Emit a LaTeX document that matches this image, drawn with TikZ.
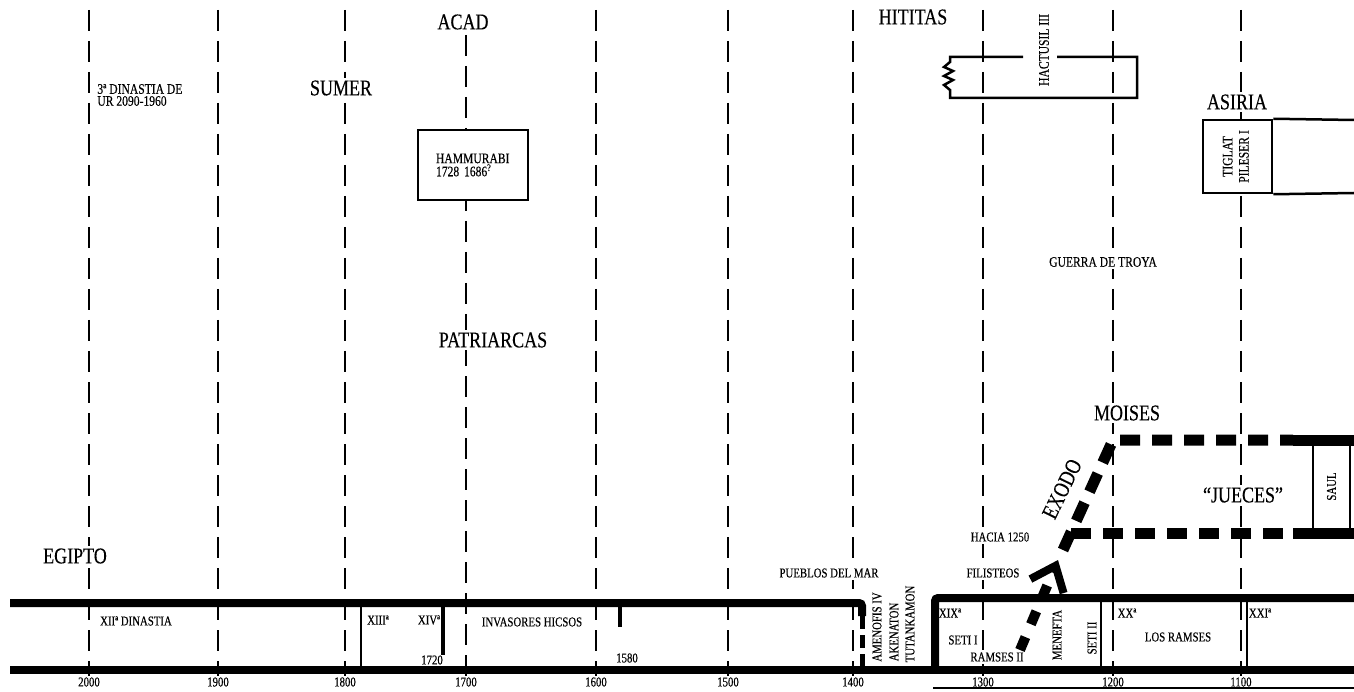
\documentclass[tikz,border=0pt]{standalone}
\usepackage{fontspec}
\setmainfont{Liberation Serif}[FakeStretch=0.8, FakeBold=0.3]
\usepackage{tikz}
\usetikzlibrary{arrows.meta, positioning, calc}

\newcommand{\bigf}{\fontsize{22.5}{24}\selectfont}
\newcommand{\midf}{\fontsize{14.5}{12}\selectfont}
\newcommand{\smf}{\fontsize{13.5}{14}\selectfont}

\begin{document}
\begin{tikzpicture}[x=1pt, y=-1pt, thick,
    grid/.style={line width=2.4pt, dash pattern=on 21pt off 10pt},
    band/.style={line width=8pt},
    rule/.style={line width=2.5pt},
    judges/.style={line width=11pt, dash pattern=on 20pt off 12pt},
    lbl/.style={fill=white, inner sep=2pt},
    big/.style={lbl, font=\bigf},
    mid/.style={lbl, font=\midf},
    small/.style={lbl, font=\smf},
    boxed/.style={draw, line width=2.5pt, fill=white}]
    \useasboundingbox (0,0) rectangle (1354,692);

    \foreach \yr/\x in {2000/89, 1900/218, 1800/345, 1700/466, 1600/596, 1500/728, 1400/853, 1300/983, 1200/1113, 1100/1241}
        \node[font=\smf, inner sep=1pt] (y\yr) at (\x,682) {\yr};
    \foreach \yr/\x/\top in {2000/89/10, 1900/218/10, 1800/345/10, 1700/466/35, 1600/596/10, 1500/728/10, 1400/853/10, 1300/983/10, 1200/1113/10, 1100/1241/10}
        \draw[grid] (\x,\top) -- (y\yr.north);

    \node[mid, align=left, anchor=west] (ur) at (95,95) {3ª DINASTIA DE\\UR 2090-1960};
    \node[big] (sumer) at (341,88) {SUMER};
    \node[big] (acad) at (463,22) {ACAD};
    \node[boxed, align=left, text width=74pt, inner xsep=18pt, minimum height=70pt, font=\midf] (hammurabi) at (473,165) {HAMMURABI\\1728 1686\textsuperscript{?}};
    \node[big] (patriarcas) at (493,340) {PATRIARCAS};
    \node[big] (hititas) at (913,17) {HITITAS};
    \node[mid, rotate=90] (hattusil) at (1044,50) {HACTUSIL III};
    \draw[rule] (1023,57) -- (950,57) -- (950,62) -- (944,67) -- (953,71) -- (944,76) -- (953,80) -- (944,85) -- (950,90) -- (950,98) -- (1137,98) -- (1137,57) -- (1057,57);
    \node[big] (asiria) at (1237,102) {ASIRIA};
    \node[boxed, minimum width=69pt, minimum height=73pt, inner sep=0pt, font=\midf] (tiglat) at (1237.5,156.5) {\rotatebox{90}{\begin{tabular}{@{}c@{}}TIGLAT\\[3pt]PILESER I\end{tabular}}};
    \coordinate (asr1) at (1354,120);
    \coordinate (asr2) at (1354,193);
    \draw[rule] (tiglat.north east) -- (asr1);
    \draw[rule] (tiglat.south east) -- (asr2);
    \node[mid] (troya) at (1103,262) {GUERRA DE TROYA};
    \node[big] (moises) at (1127,413) {MOISES};
    \node[font=\bigf, inner sep=1pt, rotate=64] (exodo) at (1062,489) {EXODO};
    \node[big] (jueces) at (1243,495) {``JUECES''};
    \node[draw, line width=2.5pt, minimum width=37pt, minimum height=93pt, inner sep=0pt, font=\smf] (saul) at (1331.5,486.5) {\rotatebox{90}{SAUL}};
    \node[big] (egipto) at (75,556) {EGIPTO};
    \node[small] (pueblos) at (829,573) {PUEBLOS DEL MAR};
    \node[small] (hacia) at (1000,537) {HACIA 1250};
    \node[small] (filisteos) at (993,573) {FILISTEOS};

    \node[small] (xii) at (136,621) {XIIª DINASTIA};
    \node[small] (xiii) at (378,620) {XIIIª};
    \node[small] (xiv) at (429,620) {XIVª};
    \node[small] (hicsos) at (532,622) {INVASORES HICSOS};
    \node[small] (y1720) at (432,660) {1720};
    \node[small] (y1580) at (627,658) {1580};
    \node[small, rotate=90] (amenofis) at (877,627) {AMENOFIS IV};
    \node[small, rotate=90] (akenaton) at (894,632) {AKENATON};
    \node[small, rotate=90] (tutankamon) at (910,624) {TUTANKAMON};
    \node[small] (xix) at (950,613) {XIXª};
    \node[small] (seti) at (963,640) {SETI I};
    \node[small] (ramses) at (997,657) {RAMSES II};
    \node[small, rotate=90] (menefta) at (1057,635) {MENEFTA};
    \node[small, rotate=90] (setii) at (1092,638) {SETI II};
    \node[small] (xx) at (1127,613) {XXª};
    \node[small] (losramses) at (1178,637) {LOS RAMSES};
    \node[small] (xxi) at (1260,613) {XXIª};

    \draw[band, rounded corners=3pt] (10,603) -- (862,603) -- (862,616);
    \draw[line width=5pt, dash pattern=on 13pt off 6pt] (862,616) -- (862,666);
    \draw[band] (10,670) -- (1354,670);
    \draw[band, rounded corners=3pt] (1354,598) -- (935,598) -- (935,670);
    \draw[rule] (933,688) -- (1354,688);
    \draw[rule] (361,603) -- (361,670);
    \draw[line width=3.5pt] (443,603) -- (443,655);
    \draw[line width=3.5pt] (620,603) -- (620,627);
    \draw[rule] (1101,598) -- (1101,670);
    \draw[rule] (1247,598) -- (1247,670);

    \coordinate (ex0) at (1063,550);
    \coordinate (ex1) at (1113,440);
    \coordinate (ex2) at (1071,533);
    \coordinate (jt) at (1293,440);
    \coordinate (jb) at (1293,533);
    \coordinate (jte) at (1354,440);
    \coordinate (jbe) at (1354,533);
    \draw[judges] (ex0) -- (ex1) -- (jt);
    \draw[judges] (ex2) -- (jb);
    \draw[line width=11pt] (jt) -- (jte);
    \draw[line width=11pt] (jb) -- (jbe);
    \coordinate (fil0) at (1020,650);
    \coordinate (fil1) at (1058,560);
    \draw[line width=10pt, dash pattern=on 14pt off 14pt, -{Straight Barb[length=22pt, width=36pt, line width=8pt]}] (fil0) -- (fil1);
\end{tikzpicture}
\end{document}
